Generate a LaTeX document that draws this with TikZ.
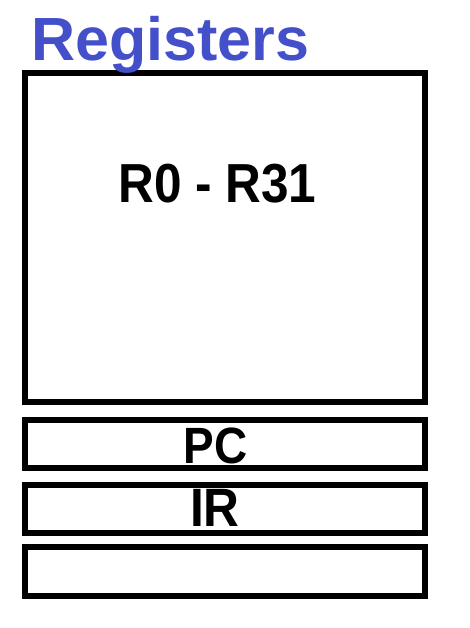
\documentclass[tikz,border=0pt]{standalone}
\usepackage{fontspec}
\setmainfont{Liberation Sans}
\definecolor{titleblue}{RGB}{68,80,202}
\begin{document}
\begin{tikzpicture}[x=1pt,y=-1pt,
  regbox/.style={draw=black, line width=6pt, inner sep=0pt, outer sep=0pt, fill=white},
  lbl/.style={inner sep=0pt, outer sep=0pt, anchor=base, font=\bfseries}]
\useasboundingbox (0,0) rectangle (470,628);
\node[regbox, minimum width=400pt, minimum height=329pt] (big) at (225,237.5) {};
\node[regbox, minimum width=400pt, minimum height=48.5pt] (pc) at (225,443.75) {};
\node[regbox, minimum width=400pt, minimum height=48.3pt] (ir) at (225,508.9) {};
\node[regbox, minimum width=400pt, minimum height=48.7pt] (empty) at (225,571.7) {};
\node[inner sep=0pt, anchor=base west, text=titleblue, font=\fontsize{61}{61}\selectfont\bfseries] (title) at (31,61) {Registers};
\node[lbl, xscale=0.9, font=\fontsize{55}{55}\selectfont\bfseries] (rlab) at (217.5,202.7) {R0 - R31};
\node[lbl, xscale=0.9, font=\fontsize{51}{51}\selectfont\bfseries] (pclab) at (215.8,463.3) {PC};
\node[lbl, xscale=0.92, font=\fontsize{54}{54}\selectfont\bfseries] (irlab) at (215,526.7) {IR};
\end{tikzpicture}
\end{document}
